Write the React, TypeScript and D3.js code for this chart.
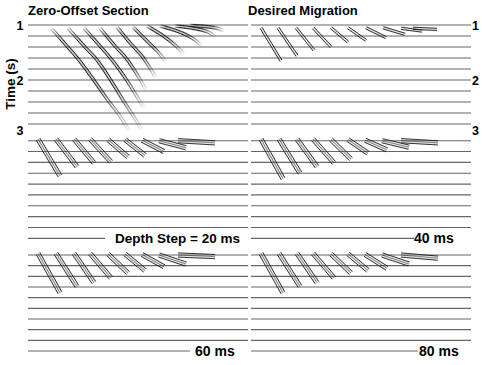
import React from 'react';
import * as d3 from 'd3';

const W = 482;
const H = 365;

// Time lines (s) drawn in every panel and the time tick labels
const timeLines = [1.0, 1.2, 1.4, 1.6, 1.8, 2.0, 2.2, 2.4, 2.6, 2.8];
const timeTicks = [1, 2, 3];

// Zero-offset section: curved events, points are [trace, time (s)]
const zo1 = [[24, 1.073], [38, 1.364], [51, 1.636], [65, 1.982], [79, 2.345], [92, 2.655], [101, 2.927]];
const zo2 = [[40, 1.055], [57, 1.4], [69, 1.636], [82, 1.982], [95, 2.364], [106, 2.673], [114, 2.909]];
const zo3 = [[56, 1.055], [72, 1.382], [84, 1.636], [98, 1.982], [108, 2.273], [116, 2.51]];
const zo4 = [[72, 1.055], [87, 1.382], [98, 1.6], [110, 1.927], [118, 2.18]];
const zo5 = [[89, 1.036], [103, 1.345], [114, 1.564], [122, 1.782], [128, 1.964]];
const zo6 = [[105, 1.036], [118, 1.273], [130, 1.49], [138, 1.673]];
const zo7 = [[119, 1.018], [134, 1.182], [147, 1.364], [156, 1.527]];
const zo8 = [[132, 1.018], [149, 1.109], [164, 1.236], [174, 1.382]];
const zo9 = [[147, 1.018], [164, 1.055], [180, 1.127], [188, 1.218]];
const zo10 = [[162, 1.009], [177, 1.027], [190, 1.064], [196, 1.109]];
const zeroOffsetEvents = [zo1, zo2, zo3, zo4, zo5, zo6, zo7, zo8, zo9, zo10];

// Desired migration: straight dipping reflectors
const desiredStartTrace = [10, 27, 45, 62, 80, 97, 115, 132, 150, 162];
const desiredEndTrace = [30, 46, 63, 80, 97, 115, 135, 154, 171, 186];
const desiredStartTime = [1.05, 1.05, 1.05, 1.05, 1.05, 1.05, 1.05, 1.05, 1.06, 1.06];
const desiredEndTime = [1.65, 1.56, 1.46, 1.40, 1.31, 1.28, 1.23, 1.17, 1.11, 1.08];

// Depth-step migrations (20, 40, 60, 80 ms)
const stepStartTrace = [10, 28, 46, 62, 80, 97, 114, 131, 150];
const stepEndTrace = [32, 49, 66, 83, 100, 117, 136, 158, 187];
const stepStartTime = [0.97, 0.97, 0.97, 0.97, 0.98, 0.98, 0.99, 1.0, 1.0];
const endTime20 = [1.65, 1.48, 1.41, 1.39, 1.30, 1.27, 1.20, 1.13, 1.04];
const endTime40 = [1.70, 1.60, 1.48, 1.41, 1.34, 1.23, 1.17, 1.12, 1.04];
const endTime60 = [1.71, 1.59, 1.52, 1.43, 1.34, 1.29, 1.22, 1.17, 1.03];
const endTime80 = [1.71, 1.59, 1.52, 1.43, 1.34, 1.29, 1.25, 1.17, 1.06];

const panelLabels = ['Depth Step = 20 ms', '40 ms', '60 ms', '80 ms'];

const FONT = '"Liberation Sans", Arial, Helvetica, sans-serif';

const colScales = [
  d3.scaleLinear().domain([0, 220]).range([28, 248]),
  d3.scaleLinear().domain([0, 220]).range([251, 471]),
];
const rowScales = [
  d3.scaleLinear().domain([1, 2.8]).range([25, 124]),
  d3.scaleLinear().domain([1, 2.8]).range([140.7, 238.3]),
  d3.scaleLinear().domain([1, 2.8]).range([255, 351]),
];

type Mig = { x0: number[]; x1: number[]; t0: number[]; t1: number[] };

function TimeLines({ col, row, lastEnd }: { col: number; row: number; lastEnd?: number }) {
  const x = colScales[col];
  const y = rowScales[row];
  return (
    <g>
      {timeLines.map((t, i) => {
        const end = i === timeLines.length - 1 && lastEnd !== undefined ? lastEnd : 220;
        return (
          <line key={i} x1={x(0)} x2={x(end)} y1={y(t)} y2={y(t)} stroke="#666" strokeWidth={1.15} />
        );
      })}
    </g>
  );
}

function MigPanel({ col, row, m, nLines }: { col: number; row: number; m: Mig; nLines: number }) {
  const x = colScales[col];
  const y = rowScales[row];
  const offsets = nLines === 2 ? [-1.1, 1.1] : [-2.1, 0, 2.1];
  return (
    <g>
      {m.x0.map((_, i) => {
        const ax = x(m.x0[i]);
        const ay = y(m.t0[i]);
        const bx = x(m.x1[i]);
        const by = y(m.t1[i]);
        const len = Math.hypot(bx - ax, by - ay);
        const nx = -(by - ay) / len;
        const ny = (bx - ax) / len;
        return (
          <g key={i}>
            <line x1={ax} y1={ay} x2={bx} y2={by} stroke="#888" strokeOpacity={0.22} strokeWidth={nLines === 2 ? 3.5 : 5} />
            {offsets.map((o, k) => (
              <line
                key={k}
                x1={ax + nx * o}
                y1={ay + ny * o}
                x2={bx + nx * o}
                y2={by + ny * o}
                stroke="#151515"
                strokeOpacity={nLines === 3 && k === 1 ? 0.5 : 0.9}
                strokeWidth={0.95}
              />
            ))}
          </g>
        );
      })}
    </g>
  );
}

function ZeroOffset() {
  const x = colScales[0];
  const y = rowScales[0];
  const line = d3
    .line<number[]>()
    .x((d) => x(d[0]))
    .y((d) => y(d[1]))
    .curve(d3.curveCatmullRom.alpha(0.5));
  return (
    <g>
      <defs>
        {zeroOffsetEvents.map((ev, i) => {
          const a = ev[0];
          const b = ev[ev.length - 1];
          return (
            <linearGradient key={i} id={`zoG${i}`} gradientUnits="userSpaceOnUse" x1={x(a[0])} y1={y(a[1])} x2={x(b[0])} y2={y(b[1])}>
              <stop offset="0" stopColor="#111" stopOpacity={0.3} />
              <stop offset="0.12" stopColor="#111" stopOpacity={1} />
              <stop offset="0.6" stopColor="#111" stopOpacity={0.95} />
              <stop offset="1" stopColor="#111" stopOpacity={0.05} />
            </linearGradient>
          );
        })}
      </defs>
      {zeroOffsetEvents.map((ev, i) => {
        const a = ev[0];
        const b = ev[ev.length - 1];
        const ax = x(a[0]), ay = y(a[1]), bx = x(b[0]), by = y(b[1]);
        const len = Math.hypot(bx - ax, by - ay);
        const nx = -(by - ay) / len;
        const ny = (bx - ax) / len;
        const d = line(ev) || '';
        return (
          <g key={i}>
            <path d={d} fill="none" stroke={`url(#zoG${i})`} strokeOpacity={0.25} strokeWidth={4} />
            {[-1.2, 1.2].map((o, k) => (
              <path key={k} d={d} transform={`translate(${nx * o},${ny * o})`} fill="none" stroke={`url(#zoG${i})`} strokeWidth={0.95} />
            ))}
          </g>
        );
      })}
    </g>
  );
}

export default function App() {
  const yTop = rowScales[0];
  const labelY = (t: number) => Math.min(yTop(t), yTop(2.8) + 6);
  const desired: Mig = { x0: desiredStartTrace, x1: desiredEndTrace, t0: desiredStartTime, t1: desiredEndTime };
  const steps: Mig[] = [endTime20, endTime40, endTime60, endTime80].map((e) => ({
    x0: stepStartTrace,
    x1: stepEndTrace,
    t0: stepStartTime,
    t1: e,
  }));
  const stepPos = [
    { col: 0, row: 1 },
    { col: 1, row: 1 },
    { col: 0, row: 2 },
    { col: 1, row: 2 },
  ];
  const lastLineEnd = [77, 163, 162, 167];
  const labelX = [115, 414, 195, 419];
  return (
    <svg width={W} height={H} style={{ position: 'absolute', left: 0, top: 0, background: '#fff' }} fontFamily={FONT}>
      <rect width={W} height={H} fill="#fff" />
      <TimeLines col={0} row={0} />
      <TimeLines col={1} row={0} />
      {stepPos.map((p, i) => (
        <TimeLines key={i} col={p.col} row={p.row} lastEnd={lastLineEnd[i]} />
      ))}
      <ZeroOffset />
      <MigPanel col={1} row={0} m={desired} nLines={2} />
      {stepPos.map((p, i) => (
        <MigPanel key={i} col={p.col} row={p.row} m={steps[i]} nLines={3} />
      ))}
      <text x={28} y={15} fontSize={13} fontWeight="bold">Zero-Offset Section</text>
      <text x={248} y={15} fontSize={13} fontWeight="bold">Desired Migration</text>
      <text transform="translate(15,84) rotate(-90)" textAnchor="middle" fontSize={13.5} fontWeight="bold">Time (s)</text>
      {timeTicks.map((t) => (
        <text key={`l${t}`} x={23.5} y={labelY(t)} dy="0.36em" textAnchor="end" fontSize={12.5} fontWeight="bold">{t}</text>
      ))}
      {timeTicks.map((t) => (
        <text key={`r${t}`} x={472} y={labelY(t)} dy="0.36em" textAnchor="start" fontSize={12.5} fontWeight="bold">{t}</text>
      ))}
      {stepPos.map((p, i) => {
        const y = rowScales[p.row];
        return (
          <text key={`p${i}`} x={labelX[i]} y={y(2.8)} dy="0.36em" fontSize={i === 0 ? 13.5 : 14} fontWeight="bold">
            {panelLabels[i]}
          </text>
        );
      })}
    </svg>
  );
}
